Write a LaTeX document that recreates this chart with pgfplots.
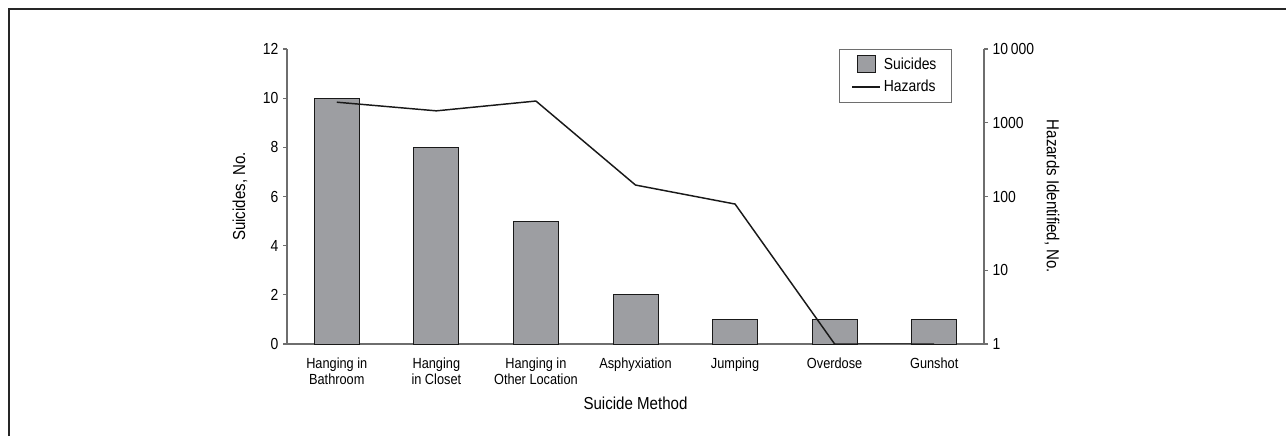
\documentclass[border=0pt]{standalone}
\usepackage{fontspec}
\setmainfont[FakeStretch=0.87]{Liberation Sans}
\usepackage{pgfplots}
\pgfplotsset{compat=1.18}
\definecolor{barfill}{RGB}{157,158,162}
\definecolor{axisgray}{RGB}{110,110,110}

\begin{document}
\begin{tikzpicture}
\useasboundingbox (0,0) rectangle (964.5pt,327pt);
% outer frame (left and top edges only)
\draw[line width=0.9pt, black!85] (6.75pt,0) -- (6.75pt,320.25pt) -- (964.5pt,320.25pt);

% bars: suicides
\begin{axis}[
    at={(215.25pt,69pt)}, anchor=south west,
    scale only axis, width=522.75pt, height=221.25pt,
    xmin=-0.5, xmax=6.5, ymin=0, ymax=12,
    axis y line*=left, axis x line*=bottom,
    axis line style={axisgray, line width=0.8pt},
    tick align=outside, major tick length=3pt,
    ytick={0,2,...,12}, yticklabels={0,2,4,6,8,10,12},
    y tick style={axisgray, line width=0.8pt},
    yticklabel style={font=\fontsize{12}{14}\selectfont},
    xtick={0,...,6}, x tick style={draw=none},
    xticklabels={{Hanging in\\Bathroom},{Hanging\\in Closet},{Hanging in\\Other Location},
                  Asphyxiation,Jumping,Overdose,Gunshot},
    xticklabel style={align=center, yshift=-3.5pt, font=\fontsize{11}{12.3}\selectfont},
    xlabel={Suicide Method},
    xlabel style={at={(axis description cs:0.5,0)}, anchor=center, yshift=-44.25pt,
                  font=\fontsize{13}{15}\selectfont},
    ylabel={Suicides, No.},
    ylabel style={at={(axis description cs:-0.0674,0.5)}, anchor=center,
                  font=\fontsize{13}{15}\selectfont},
    ybar, bar width=33.75pt,
]
\addplot[fill=barfill, draw=black!90, line width=0.7pt]
    coordinates {(0,10) (1,8) (2,5) (3,2) (4,1) (5,1) (6,1)};
\end{axis}

% line: hazards (log scale)
\begin{axis}[
    at={(215.25pt,69pt)}, anchor=south west,
    scale only axis, width=522.75pt, height=221.25pt,
    xmin=-0.5, xmax=6.5, ymode=log, ymin=1, ymax=10000,
    axis x line=none, axis y line*=right,
    axis line style={axisgray, line width=0.8pt},
    tick align=outside, major tick length=3pt,
    ytick={1,10,100,1000,10000}, yticklabels={1,10,100,1000,10\,000},
    y tick style={axisgray, line width=0.8pt},
    minor tick style={draw=none},
    yticklabel style={font=\fontsize{12}{14}\selectfont},
    ylabel={Hazards Identified, No.},
    ylabel style={at={(axis description cs:1.0976,0.5)}, anchor=center, rotate=180,
                  font=\fontsize{13}{15}\selectfont},
    legend style={at={(0.9535,1)}, anchor=north east, draw=axisgray, line width=0.7pt,
                  font=\fontsize{12}{14}\selectfont, inner xsep=9pt, inner ysep=4pt,
                  row sep=3pt},
    legend cell align=left,
]
\addlegendimage{legend image code/.code={
    \draw[fill=barfill, draw=black!90, line width=0.7pt] (4.1pt,-6.4pt) rectangle (16.9pt,6.4pt);}}
\addlegendentry{Suicides}
\addplot[black!90, line width=1.1pt, mark=none,
    legend image code/.code={\draw[black!90, line width=1.1pt] (0pt,0pt) -- (21pt,0pt);}]
    coordinates {(0,1900) (1,1450) (2,1970) (3,143) (4,79) (5,1) (6,1)};
\addlegendentry{Hazards}
\end{axis}
\end{tikzpicture}
\end{document}
